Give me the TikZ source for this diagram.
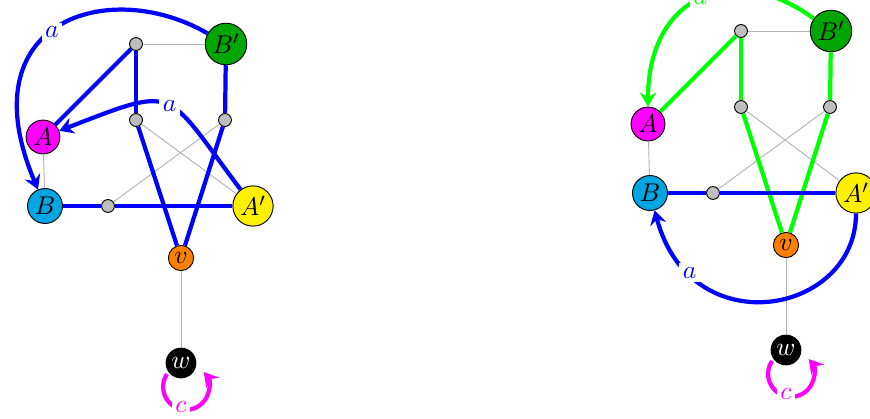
\documentclass[tikz,border=0pt]{standalone}
\usetikzlibrary{shapes,arrows,arrows.meta}
\definecolor{colA}{RGB}{255,0,255}
\definecolor{colB}{RGB}{0,166,226}
\definecolor{colAp}{RGB}{255,240,0}
\definecolor{colBp}{RGB}{0,166,0}
\definecolor{colv}{RGB}{255,128,0}
\definecolor{edgegray}{RGB}{180,180,180}
\definecolor{dotgray}{RGB}{190,190,190}
\tikzstyle{vertex} = [circle, draw, line width=0.4pt, inner sep=1.2pt]
\tikzstyle{dot} = [circle, draw, line width=0.4pt, fill=dotgray, inner sep=0pt, minimum size=5.5pt]
\tikzstyle{thin edge} = [draw, edgegray, line width=0.4pt]
\tikzstyle{bold} = [draw, line width=1.8pt]
\tikzstyle{move} = [draw, line width=1.8pt, -{Stealth[length=6pt, width=7pt, inset=2pt]}]
\tikzstyle{lbl} = [fill=white, inner sep=1.5pt]

\begin{document}
\begin{tikzpicture}[x=0.015cm, y=0.015cm, font=\fontsize{11}{13}\selectfont]
	\useasboundingbox (0,-419) rectangle (870,0);

	% left graph
	\begin{scope}
		\node [dot] (top1) at (136,-44) {};
		\node [vertex, fill=colBp] (Bp1) at (226,-44) {$B'$};
		\node [vertex, fill=colA] (A1) at (43,-137) {$A$};
		\node [dot] (inl1) at (136,-120) {};
		\node [dot] (inr1) at (225,-120) {};
		\node [vertex, fill=colB] (B1) at (45,-206) {$B$};
		\node [dot] (bot1) at (108,-206) {};
		\node [vertex, fill=colAp] (Ap1) at (253,-206) {$A'$};
		\node [vertex, fill=colv] (v1) at (181,-258) {$v$};
		\node [vertex, fill=black, text=white] (w1) at (181,-363) {$w$};

		\path [thin edge] (top1) -- (Bp1);
		\path [thin edge] (A1) -- (B1);
		\path [thin edge] (bot1) -- (inr1);
		\path [thin edge] (inl1) -- (Ap1);
		\path [thin edge] (v1) -- (w1);

		\path [bold, blue] (top1) -- (A1);
		\path [bold, blue] (top1) -- (inl1);
		\path [bold, blue] (Bp1) -- (inr1);
		\path [bold, blue] (B1) -- (bot1);
		\path [bold, blue] (bot1) -- (Ap1);
		\path [bold, blue] (inl1) -- (v1);
		\path [bold, blue] (inr1) -- (v1);

		\path [move, blue] (Bp1) to[out=150, in=113, out distance=49pt, in distance=78pt] node [lbl, text=blue, pos=0.53] {$a$} (B1);
		\path [move, blue] (Ap1) to[out=127, in=21, distance=55pt] node [lbl, text=blue, pos=0.47] {$a$} (A1);

		\path [move, colA] ([shift={(-14,-11)}]w1.center) arc[start angle=146, end angle=400, radius=23];
		\node [lbl, text=colA] (c1) at ([shift={(0,-44)}]w1.center) {$c$};
	\end{scope}

	% right graph
	\begin{scope}[shift={(605,13)}]
		\node [dot] (top2) at (136,-44) {};
		\node [vertex, fill=colBp] (Bp2) at (226,-44) {$B'$};
		\node [vertex, fill=colA] (A2) at (43,-137) {$A$};
		\node [dot] (inl2) at (136,-120) {};
		\node [dot] (inr2) at (225,-120) {};
		\node [vertex, fill=colB] (B2) at (45,-206) {$B$};
		\node [dot] (bot2) at (108,-206) {};
		\node [vertex, fill=colAp] (Ap2) at (251,-206) {$A'$};
		\node [vertex, fill=colv] (v2) at (181,-258) {$v$};
		\node [vertex, fill=black, text=white] (w2) at (181,-363) {$w$};

		\path [thin edge] (top2) -- (Bp2);
		\path [thin edge] (A2) -- (B2);
		\path [thin edge] (bot2) -- (inr2);
		\path [thin edge] (inl2) -- (Ap2);
		\path [thin edge] (v2) -- (w2);

		\path [bold, green] (top2) -- (A2);
		\path [bold, green] (top2) -- (inl2);
		\path [bold, green] (Bp2) -- (inr2);
		\path [bold, green] (inl2) -- (v2);
		\path [bold, green] (inr2) -- (v2);
		\path [bold, blue] (B2) -- (bot2);
		\path [bold, blue] (bot2) -- (Ap2);

		\path [move, green] (Bp2) to[out=144, in=90, out distance=43pt, in distance=47pt] node [lbl, text=green, pos=0.5] {$a$} (A2);
		\path [move, blue] (Ap2) to[out=-90, in=-75, out distance=43pt, in distance=60pt] node [lbl, text=blue, pos=0.8] {$a$} (B2);

		\path [move, colA] ([shift={(-14,-11)}]w2.center) arc[start angle=146, end angle=400, radius=23];
		\node [lbl, text=colA] (c2) at ([shift={(0,-44)}]w2.center) {$c$};
	\end{scope}
\end{tikzpicture}
\end{document}
